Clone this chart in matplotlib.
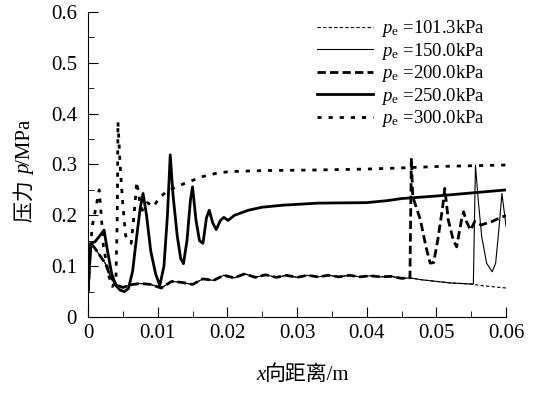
import matplotlib
matplotlib.use('Agg')
import matplotlib.pyplot as plt
from matplotlib.ticker import MultipleLocator, FormatStrFormatter

plt.rcParams['font.family'] = ['Liberation Serif', 'Noto Sans CJK SC']
plt.rcParams['mathtext.fontset'] = 'custom'
plt.rcParams['mathtext.rm'] = 'Liberation Serif'
plt.rcParams['mathtext.it'] = 'Liberation Serif:italic'

# lower (no shock) path, shared by 101.3 / 150 / 200 kPa before their jumps
x_low = [0, 0.0004, 0.0010, 0.0018, 0.0025, 0.0032, 0.0040, 0.0050, 0.0060, 0.0075,
         0.0090, 0.0105, 0.0120, 0.0135, 0.0150, 0.0165, 0.0180, 0.0195, 0.0210,
         0.0225, 0.0240, 0.0255, 0.0270, 0.0285, 0.0300, 0.0315, 0.0330, 0.0345,
         0.0360, 0.0375, 0.0390, 0.0405, 0.0420, 0.0435, 0.0450, 0.0462, 0.0480,
         0.0500, 0.0520, 0.0548, 0.0570, 0.0600]
p_low = [0.05, 0.145, 0.135, 0.119, 0.105, 0.080, 0.065, 0.058, 0.063, 0.066,
         0.064, 0.057, 0.070, 0.068, 0.064, 0.075, 0.072, 0.082, 0.077,
         0.085, 0.078, 0.083, 0.078, 0.082, 0.078, 0.082, 0.079, 0.082,
         0.079, 0.082, 0.079, 0.081, 0.079, 0.080, 0.076, 0.077, 0.073,
         0.070, 0.067, 0.065, 0.061, 0.057]

# 150 kPa after the jump near x = 0.0555
x_150 = [0.0553, 0.0556, 0.0560, 0.0565, 0.0572, 0.0580, 0.0585, 0.0590, 0.0594, 0.0597, 0.0600]
p_150 = [0.065, 0.299, 0.230, 0.158, 0.106, 0.089, 0.106, 0.178, 0.243, 0.210, 0.178]

# 200 kPa after the jump near x = 0.0463
x_200 = [0.0462, 0.0464, 0.0466, 0.0477, 0.0485, 0.0491, 0.0496, 0.0502, 0.0509,
         0.0512, 0.0517, 0.0524, 0.0529, 0.0536, 0.0539, 0.0543, 0.0549, 0.0555,
         0.0564, 0.0580, 0.0594, 0.0600]
p_200 = [0.077, 0.313, 0.237, 0.191, 0.138, 0.106, 0.107, 0.152, 0.217,
         0.253, 0.191, 0.152, 0.138, 0.191, 0.207, 0.188, 0.171, 0.188,
         0.181, 0.188, 0.197, 0.199]

x_250 = [0, 0.0004, 0.0010, 0.0017, 0.0023, 0.0028, 0.0034, 0.0040, 0.0046, 0.0052,
         0.0058, 0.0064, 0.0070, 0.0075, 0.0079, 0.0084, 0.0090, 0.0097, 0.0103,
         0.0109, 0.0114, 0.0118, 0.0122, 0.0128, 0.0133, 0.0137, 0.0142, 0.0147,
         0.0150, 0.0155, 0.0160, 0.0165, 0.0170, 0.0174, 0.0179, 0.0184, 0.0190,
         0.0195, 0.0201, 0.0210, 0.0230, 0.0250, 0.0280, 0.0330, 0.0400, 0.0430,
         0.0450, 0.0500, 0.0550, 0.0600]
p_250 = [0.05, 0.145, 0.148, 0.160, 0.171, 0.130, 0.085, 0.062, 0.053, 0.050,
         0.056, 0.090, 0.160, 0.215, 0.243, 0.200, 0.130, 0.085, 0.062,
         0.100, 0.200, 0.319, 0.240, 0.160, 0.115, 0.105, 0.150, 0.230,
         0.256, 0.190, 0.150, 0.145, 0.195, 0.210, 0.185, 0.172, 0.190,
         0.196, 0.190, 0.200, 0.210, 0.216, 0.220, 0.224, 0.225, 0.229,
         0.233, 0.238, 0.244, 0.250]

x_300 = [0, 0.0004, 0.0006, 0.0012, 0.0016, 0.0019, 0.0022, 0.0026, 0.0030, 0.0035,
         0.0040, 0.0042, 0.0043, 0.0046, 0.0050, 0.0054, 0.0058, 0.0062, 0.0066,
         0.0070, 0.0074, 0.0078, 0.0085, 0.0094, 0.0102, 0.0113, 0.0125, 0.0139,
         0.0164, 0.0185, 0.0203, 0.0250, 0.0316, 0.0400, 0.0445, 0.0500, 0.0600]
p_300 = [0.05, 0.145, 0.178, 0.220, 0.250, 0.200, 0.140, 0.110, 0.080, 0.060,
         0.070, 0.200, 0.384, 0.300, 0.220, 0.160, 0.150, 0.145, 0.200,
         0.266, 0.230, 0.210, 0.225, 0.217, 0.234, 0.247, 0.255, 0.263,
         0.276, 0.283, 0.286, 0.288, 0.289, 0.291, 0.293, 0.296, 0.299]

labels = ['$p_{\\mathrm{e}}$ =101.3kPa', '$p_{\\mathrm{e}}$ =150.0kPa',
          '$p_{\\mathrm{e}}$ =200.0kPa', '$p_{\\mathrm{e}}$ =250.0kPa',
          '$p_{\\mathrm{e}}$ =300.0kPa']

# build each full series
i150 = sum(1 for v in x_low if v < x_150[0])
i200 = sum(1 for v in x_low if v < x_200[0])
x150_all = x_low[:i150] + x_150
p150_all = p_low[:i150] + p_150
x200_all = x_low[:i200] + x_200
p200_all = p_low[:i200] + p_200

fig = plt.figure(figsize=(5.35, 3.96), dpi=100)
ax = fig.add_axes([0.1645, 0.1995, 0.7815, 0.7702])

ax.plot(x_low, p_low, color='black', lw=0.8, dashes=(3, 2), label=labels[0])
ax.plot(x150_all, p150_all, color='black', lw=0.8, label=labels[1])
ax.plot(x200_all, p200_all, color='black', lw=2.0, dashes=(3, 1.5), label=labels[2])
ax.plot(x_250, p_250, color='black', lw=2.0, label=labels[3])
ax.plot(x_300, p_300, color='black', lw=2.0, dashes=(1.5, 2.5), label=labels[4])

ax.set_xlim(0, 0.06)
ax.set_ylim(0, 0.6)
ax.spines['top'].set_visible(False)
ax.spines['right'].set_visible(False)
ax.xaxis.set_major_locator(MultipleLocator(0.01))
ax.xaxis.set_minor_locator(MultipleLocator(0.005))
ax.yaxis.set_major_locator(MultipleLocator(0.1))
ax.yaxis.set_minor_locator(MultipleLocator(0.05))
ax.xaxis.set_major_formatter(FormatStrFormatter('%g'))
ax.yaxis.set_major_formatter(FormatStrFormatter('%g'))
ax.tick_params(which='major', direction='in', length=7, labelsize=15)
ax.tick_params(axis='y', which='major', pad=8)
ax.tick_params(axis='x', which='major', pad=5)
ax.tick_params(which='minor', direction='in', length=4)

ax.legend(loc='upper right', bbox_to_anchor=(0.99, 1.035), frameon=False,
          fontsize=13.5, handlelength=3.0, labelspacing=0.08, handletextpad=0.4)


def label_pieces(pieces, cx, cy, vertical=False, size=15):
    # draw a label made of pieces (text, italic?) centred at (cx, cy) pixels
    fig.canvas.draw()
    r = fig.canvas.get_renderer()
    objs = []
    for s, it in pieces:
        t = fig.text(0, 0, s, fontsize=size, style='italic' if it else 'normal',
                     rotation=90 if vertical else 0, ha='left', va='bottom',
                     transform=None)
        objs.append(t)
    sizes = [t.get_window_extent(r) for t in objs]
    total = sum((b.height if vertical else b.width) for b in sizes)
    pos = (cy if vertical else cx) - total / 2
    for t, b in zip(objs, sizes):
        if vertical:
            t.set_position((cx - b.width / 2, pos))
            pos += b.height
        else:
            t.set_position((pos, cy - b.height / 2))
            pos += b.width


H = 396
label_pieces([('x', True), ('向距离/m', False)], 303, H - 375, size=15)
label_pieces([('压力 ', False), ('p', True), ('/MPa', False)], 26, H - 171,
             vertical=True, size=15)

fig.savefig('out.png', dpi=100)
